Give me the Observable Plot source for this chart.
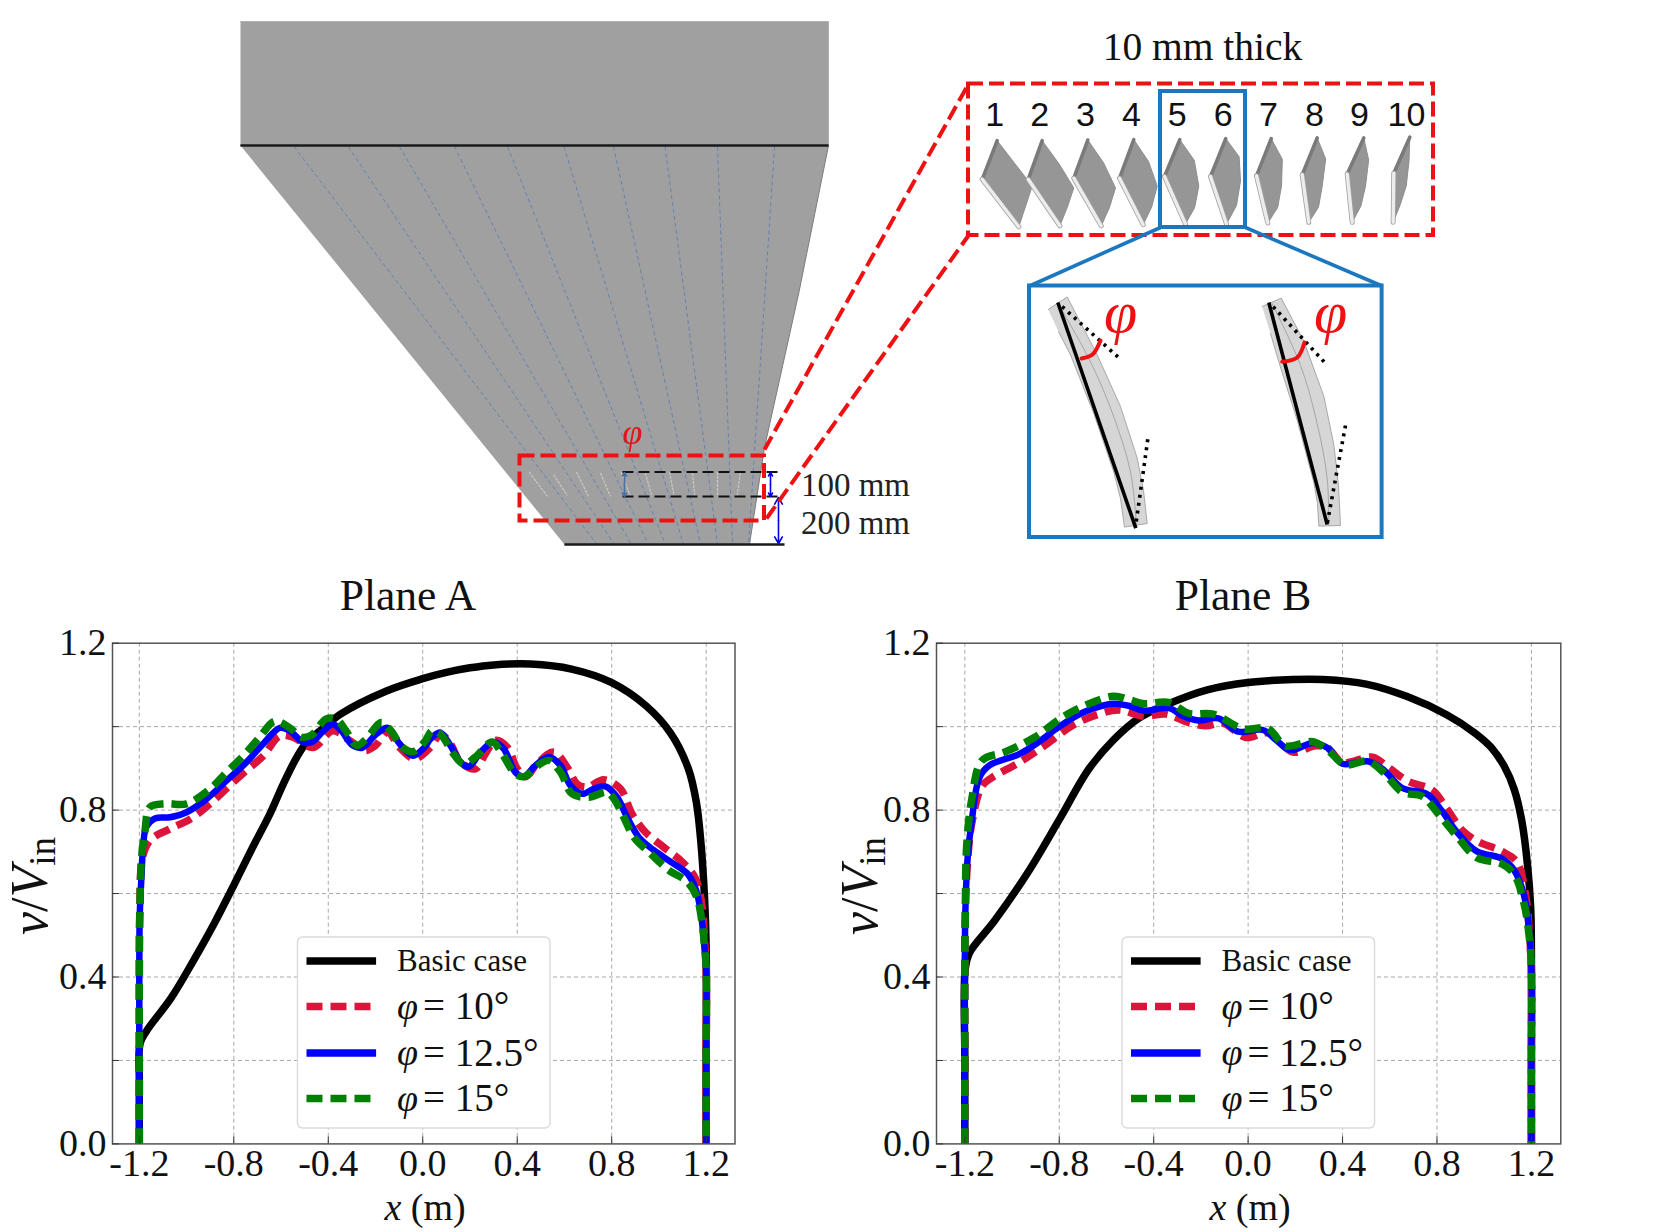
<!DOCTYPE html>
<html><head><meta charset="utf-8">
<script src="https://cdn.jsdelivr.net/npm/d3@7"></script>
<script src="https://cdn.jsdelivr.net/npm/@observablehq/plot@0.6"></script>
<style>
html,body{margin:0;padding:0;background:#fff}
#page{position:relative;width:1674px;height:1232px;overflow:hidden;background:#fff;font-family:"Liberation Serif",serif;color:#111}
#page svg{position:absolute;background:transparent}
.lab{position:absolute;white-space:nowrap;z-index:3;line-height:1}
.lab sub{font-size:37px;vertical-align:baseline;position:relative;top:8px}
</style></head><body><div id="page"></div>
<script>
// ---------- chart data (x in m, v/Vin) ----------
const wallL = [[-1.2,0],[-1.2,.2],[-1.2,.4],[-1.198,.55]];
const wallR = [[1.2,.42],[1.2,.2],[1.2,0]];

const planeA_basic = [[-1.2,0],[-1.2,.15],[-1.197,.24],[-1.17,.27],[-1.065,.35],[-.97,.44],[-.884,.527],[-.8,.62],[-.72,.711],[-.648,.79],[-.59,.863],[-.533,.927],[-.49,.963],[-.42,.997],[-.348,1.03],[-.156,1.085],[0,1.115],[.1,1.13],[.2,1.141],[.3,1.148],[.456,1.15],[.63,1.138],[.798,1.106],[.945,1.05],[1.05,.984],[1.124,.9],[1.158,.82],[1.178,.72],[1.193,.59],[1.2,.47],[1.2,.2],[1.2,0]];
const planeA_10 = [...wallL,[-1.185,.69],[-1.15,.73],[-1.07,.755],[-.98,.78],[-.9,.815],[-.825,.855],[-.755,.891],[-.675,.93],[-.605,.978],[-.55,.975],[-.465,.95],[-.38,.99],[-.31,.967],[-.245,.943],[-.2,.955],[-.15,.987],[-.098,.95],[-.035,.923],[.032,.95],[.075,.982],[.117,.959],[.16,.915],[.223,.899],[.265,.935],[.308,.967],[.357,.951],[.4,.899],[.435,.88],[.484,.911],[.555,.939],[.611,.903],[.653,.863],[.696,.855],[.766,.873],[.837,.851],[.886,.791],[.943,.747],[1.02,.711],[1.098,.676],[1.155,.636],[1.183,.568],[1.193,.488],...wallR];
const planeA_125 = [...wallL,[-1.19,.65],[-1.183,.72],[-1.17,.76],[-1.134,.78],[-1.07,.783],[-1,.795],[-.915,.827],[-.83,.871],[-.746,.915],[-.675,.959],[-.605,.997],[-.563,.99],[-.507,.963],[-.47,.963],[-.42,.99],[-.38,1.006],[-.345,.99],[-.296,.955],[-.254,.95],[-.197,.982],[-.148,.997],[-.098,.959],[-.042,.93],[.007,.95],[.032,.97],[.072,.986],[.117,.955],[.16,.915],[.195,.904],[.245,.939],[.3,.963],[.343,.947],[.392,.891],[.428,.88],[.477,.907],[.534,.927],[.583,.907],[.625,.859],[.675,.839],[.724,.851],[.773,.857],[.823,.831],[.865,.783],[.915,.735],[.978,.704],[1.05,.676],[1.12,.648],[1.155,.612],[1.176,.56],[1.19,.488],...wallR];
const planeA_15 = [...wallL,[-1.19,.69],[-1.176,.75],[-1.155,.807],[-1.085,.815],[-1,.815],[-.9,.851],[-.83,.891],[-.76,.93],[-.69,.975],[-.627,1.013],[-.563,.997],[-.515,.975],[-.47,.98],[-.41,1.018],[-.366,1.018],[-.325,.99],[-.28,.955],[-.24,.97],[-.175,1.01],[-.135,.99],[-.085,.95],[-.042,.94],[.007,.963],[.04,.99],[.075,.982],[.13,.935],[.174,.91],[.223,.927],[.294,.963],[.336,.935],[.392,.887],[.428,.88],[.498,.911],[.534,.919],[.583,.891],[.632,.839],[.703,.831],[.78,.843],[.809,.827],[.851,.783],[.894,.735],[.964,.696],[1.042,.656],[1.12,.628],[1.16,.592],[1.183,.528],[1.193,.472],...wallR];

const planeB_basic = [[-1.2,0],[-1.2,.2],[-1.198,.42],[-1.18,.458],[-1.075,.534],[-.927,.656],[-.8,.777],[-.674,.899],[-.569,.969],[-.464,1.02],[-.337,1.055],[-.169,1.089],[0,1.106],[.19,1.113],[.316,1.113],[.5,1.102],[.674,1.072],[.843,1.028],[.96,.985],[1.03,.95],[1.085,.905],[1.127,.85],[1.159,.775],[1.184,.666],[1.197,.565],[1.2,.463],[1.2,.2],[1.2,0]];
const planeB_10 = [...wallL,[-1.188,.68],[-1.17,.77],[-1.127,.858],[-1.085,.878],[-.97,.914],[-.864,.954],[-.737,1.005],[-.632,1.03],[-.548,1.04],[-.442,1.025],[-.348,1.03],[-.253,1.01],[-.179,1.002],[-.105,1.008],[-.01,.974],[.084,.985],[.19,.939],[.285,.954],[.337,.949],[.4,.914],[.527,.927],[.59,.904],[.674,.87],[.78,.848],[.843,.802],[.906,.752],[.969,.726],[1.075,.701],[1.138,.676],[1.176,.595],[1.192,.5],...wallR];
const planeB_125 = [...wallL,[-1.188,.686],[-1.17,.777],[-1.138,.878],[-1.096,.907],[-.97,.934],[-.885,.964],[-.8,1],[-.695,1.035],[-.569,1.055],[-.506,1.05],[-.442,1.038],[-.337,1.045],[-.274,1.025],[-.21,1.015],[-.126,1.02],[-.042,.988],[.063,.992],[.116,.969],[.179,.944],[.274,.961],[.337,.949],[.4,.911],[.506,.917],[.569,.899],[.653,.853],[.759,.838],[.822,.797],[.885,.747],[.969,.701],[1.075,.684],[1.127,.656],[1.169,.595],[1.19,.514],...wallR];
const planeB_15 = [...wallL,[-1.192,.716],[-1.17,.828],[-1.127,.919],[-1.032,.939],[-.906,.974],[-.78,1.025],[-.674,1.055],[-.569,1.073],[-.506,1.065],[-.442,1.055],[-.337,1.058],[-.253,1.032],[-.147,1.03],[-.021,.995],[.084,.995],[.158,.954],[.274,.964],[.337,.944],[.411,.909],[.506,.917],[.569,.893],[.653,.843],[.737,.833],[.811,.787],[.885,.737],[.969,.686],[1.075,.671],[1.127,.646],[1.169,.575],[1.19,.5],...wallR];

const xTicks = [-1.2,-.8,-.4,0,.4,.8,1.2];
const yTicks = [0,.4,.8,1.2];
const yGrid = [.2,.4,.6,.8,1];

// ---------- legend ----------
const legendLabels = ["Basic case","= 10°","= 12.5°","= 15°"];
const legendColors = ["#000000","#dc143c","#0000ff","#008000"];
const legendDash = ["none","16 8","none","16 8"];
const lineWidths = [7.5,7.5,6.5,7.5];

// ---------- schematic, in page units ----------
const ductTop = [[240,21],[828,21],[828,145],[240,145]];
const ductBody = [[240,145],[828,145],[798.6,291],[764,447],[749,544],[564,544]];
const flowTop = [293.5,347.7,399,454,507,563.5,613,664.5,717,774];
const flowBottom = [596.5,614,631,648,665,683,700,717,732,748];
const smallBlades = [[528.6,471.5,547,496],[553,474,566.7,495],[576,471.5,588,496],[600,472.5,610,496],[620.4,471.5,630,496],[644.8,472.5,651.6,496],[669,471.5,673.7,496],[692,472.5,694.4,496],[717,471.5,717,496],[739.8,472.5,736.6,496]];
const vaneCorners = [
 [[996.7,140.2],[1031.7,185.6],[1018.3,226.3],[981.7,178.8]],
 [[1041.7,140.2],[1073.3,187.4],[1059.3,225.3],[1027.7,178.8]],
 [[1087.3,139.5],[1115,187.4],[1100.7,225.3],[1073.3,177.7]],
 [[1133.3,139.2],[1156.7,185.6],[1142.7,224.2],[1119,177.7]],
 [[1179.3,139.2],[1198.3,185.6],[1185,223.5],[1164,176]],
 [[1225.3,138.1],[1240,180.5],[1226,223.5],[1210,176]],
 [[1270.7,138.1],[1281,185.6],[1267.3,222.5],[1256,175.3]],
 [[1316.7,137.4],[1321.7,185.6],[1308.3,221.8],[1301.7,174.3]],
 [[1363.3,137.4],[1365,185.6],[1351.7,221.8],[1346.7,173.6]],
 [[1409.3,136.7],[1405.7,185.6],[1392.7,221.8],[1393.3,172.6]]];
const vaneBulge = [0,1,2,3,5,6,6,6,4,1];
const vaneNames = ["1","2","3","4","5","6","7","8","9","10"];
const vaneNameX = [994.3,1039.3,1085,1131,1176.7,1222.7,1268,1314,1359,1406];
const bladeA = [[1047.7,309],[1066.7,296.5],[1081,324],[1096.7,354.4],[1120,406],[1136.7,457.7],[1143,490],[1146.7,523],[1124,526.6],[1120,498],[1113.3,471.5],[1093.3,413],[1070,354.4],[1058,331]];
const bladeB = [[1261.7,306],[1280.7,297.6],[1292,319],[1303.3,340.6],[1323.3,395.7],[1333.3,444],[1338,485],[1340,525],[1318.3,525.6],[1317,503],[1313.3,481.8],[1296.7,419.8],[1278.3,361.3],[1270,333]];
const camberA = [[1057.3,302.7],[1090,361.3],[1113.3,416.4],[1130,471.5],[1136,525]];
const camberB = [[1271,302],[1300,364.7],[1316.7,423.3],[1326.7,478.4],[1328.3,525]];
const chords = [[1057.3,302,1135.3,527.6],[1268.3,302,1326.7,524]];
const tangents = [[1061.7,306.2,1118.3,357.2],[1147.3,438.8,1135,526.6],[1272.7,306.2,1326.7,364.7],[1345,425,1326.7,523]];
const arcA = [[1081,358],[1092,354],[1100,340]];
const arcB = [[1281.7,361.3],[1296.7,357],[1304,342]];
const redBoxes = [[519.5,455.5,764,520.5],[968,83.5,1433,235]];
const redLeaders = [[764,449,968,83.5],[766,518,968,235]];
const blueBoxes = [[1160,91,1245,227],[1029,285.5,1381.6,537]];
const blueLeaders = [[1160,227,1029,285.5],[1245,227,1381.6,285.5]];
const blackDashes = [[622,471.5,780,471.5],[622,496,780,496]];
const dimArrows = [[770,484,770,472,"#0000e0"],[770,484,770,496,"#0000e0"],[778,520,778,497,"#0000e0"],[778,520,778,543,"#0000e0"],[624,484,624,472,"#4a6fa5"],[624,484,624,496,"#4a6fa5"]];
const blackLines = [[240,145,828,145],[564,544,784,544]];
const notes = [["100 mm",855,485],["200 mm",855,523]];

const serif = "Liberation Serif";

function chart(series, opts){
  const H = opts.frameH, W = opts.width - opts.left - opts.right;
  return Plot.plot({
    width: opts.width, height: opts.height,
    marginLeft: opts.left, marginRight: opts.right, marginTop: opts.top, marginBottom: opts.bottom,
    style: {background:"transparent"},
    x: {domain: opts.xDomain, axis:null},
    y: {domain: [0,1.2], axis:null},
    marks: [
      Plot.gridX(xTicks,{stroke:"#a8a8a8",strokeOpacity:1,strokeWidth:1,strokeDasharray:"4 3"}),
      Plot.gridY(yGrid,{stroke:"#a8a8a8",strokeOpacity:1,strokeWidth:1,strokeDasharray:"4 3"}),
      ...series.map((s,i)=>Plot.line(s,{x:d=>d[0],y:d=>d[1],stroke:legendColors[i],strokeWidth:lineWidths[i],strokeDasharray:legendDash[i]==="none"?null:legendDash[i],curve:"catmull-rom",strokeLinecap:"butt",strokeLinejoin:"round"})),
      Plot.frame({stroke:"#555",strokeWidth:1.5}),
      Plot.tickX(xTicks,{x:d=>d,insetTop:H-7,stroke:"#333",strokeWidth:1}),
      Plot.tickY(yGrid.concat([1.2,0]),{y:d=>d,insetRight:W-7,stroke:"#333",strokeWidth:1}),
      Plot.axisX(xTicks,{anchor:"bottom",tickSize:0,tickPadding:5,tickFormat:d=>d.toFixed(1),fontSize:38,fontFamily:serif,fill:"#111"}),
      Plot.axisY(yTicks,{anchor:"left",tickSize:0,tickPadding:6,tickFormat:d=>d.toFixed(1),fontSize:38,fontFamily:serif,fill:"#111"})
    ]
  });
}

const page = document.getElementById("page");
const place = (el,l,t,z)=>{el.style.left=l+"px";el.style.top=t+"px";el.style.zIndex=z;page.appendChild(el);};

place(chart([planeA_basic,planeA_10,planeA_125,planeA_15],{width:760,height:570,left:112,right:25.5,top:22.7,bottom:46.6,frameH:500.7,xDomain:[-1.3135,1.322]}),0,620,1);
place(chart([planeB_basic,planeB_10,planeB_125,planeB_15],{width:760,height:570,left:116,right:19.7,top:22.7,bottom:46.6,frameH:500.7,xDomain:[-1.32,1.3245]}),820,620,1);

// ---------- overlay: schematic and legends ----------
const poly = (pts,o)=>Plot.line(pts,{x:d=>d[0],y:d=>d[1],...o});
const seg = (rows,o)=>Plot.link(rows,{x1:d=>d[0],y1:d=>d[1],x2:d=>d[2],y2:d=>d[3],...o});
const box = (rows,o)=>Plot.rect(rows,{x1:d=>d[0],y1:d=>d[1],x2:d=>d[2],y2:d=>d[3],fill:"none",...o});
const flowLines = flowTop.map((t,i)=>[t,146,flowBottom[i],544]);
const legendOffsets = [0,824.5];
const legendRowY = [960.5,1006,1052.6,1098];
const legendBoxes = legendOffsets.map(o=>[297.5+o,937,550+o,1128]);
const legendLines = i=>legendOffsets.map(o=>[306+o,legendRowY[i],375.6+o,legendRowY[i]]);
const legendText = i=>legendOffsets.map(o=>({x:396.5+o,y:legendRowY[i],t:legendLabels[i]}));
// the vane's far edges bow outwards a little
const bowed = (c,b)=>[c[0],[(c[0][0]+c[1][0])/2+b,(c[0][1]+c[1][1])/2-b/2],c[1],[(c[1][0]+c[2][0])/2+b/2,(c[1][1]+c[2][1])/2+b/2],c[2],c[3]];

const overlay = Plot.plot({
  width:1674,height:1232,margin:0,
  style:{background:"transparent",pointerEvents:"none"},
  x:{domain:[0,1674],axis:null},
  y:{domain:[1232,0],axis:null},
  marks:[
    poly(ductTop,{fill:"#a0a0a0",stroke:"#b0b0b0",strokeWidth:1}),
    poly(ductBody,{fill:"#a0a0a0",stroke:"#7d7d7d",strokeWidth:1}),
    seg(flowLines,{stroke:"#5b7fb5",strokeWidth:.9,strokeDasharray:"4 3"}),
    seg(smallBlades,{stroke:"#c8c8c8",strokeWidth:1.2,strokeDasharray:"3 1"}),
    seg(blackDashes,{stroke:"#111",strokeWidth:2,strokeDasharray:"11 5"}),
    seg(blackLines,{stroke:"#1a1a1a",strokeWidth:2.4}),
    ...dimArrows.map(a=>Plot.arrow([a],{x1:d=>d[0],y1:d=>d[1],x2:d=>d[2],y2:d=>d[3],stroke:d=>d[4],strokeWidth:1.6,headLength:9,bend:false})),
    box(redBoxes,{stroke:"#ee1111",strokeWidth:4,strokeDasharray:"15 6"}),
    seg(redLeaders,{stroke:"#ee1111",strokeWidth:4,strokeDasharray:"15 6"}),
    Plot.text(["φ"],{x:()=>632,y:()=>432,fontFamily:serif,fontStyle:"italic",fontSize:36,fill:"#e01515"}),
    Plot.text(notes,{x:d=>d[1],y:d=>d[2],text:d=>d[0],fontFamily:serif,fontSize:33,fill:"#222"}),
    Plot.text(["10 mm thick"],{x:()=>1202,y:()=>47,fontFamily:serif,fontSize:39.5,fill:"#111"}),
    ...vaneCorners.flatMap((c,i)=>[
      poly(bowed(c,vaneBulge[i]),{fill:"#969696",stroke:"#8e8e8e",strokeWidth:1,curve:"linear"}),
      poly([c[3],c[0]],{stroke:"#7a7a7a",strokeWidth:3.6}),
      poly([c[3],c[2]],{stroke:"#a0a0a0",strokeWidth:5}),
      poly([c[3],c[2]],{stroke:"#ececec",strokeWidth:3.4})
    ]),
    Plot.text(vaneNames,{x:(d,i)=>vaneNameX[i],y:()=>114.5,fontFamily:"Liberation Sans",fontSize:34,fill:"#111"}),
    box(blueBoxes,{stroke:"#1b78c0",strokeWidth:4}),
    seg(blueLeaders,{stroke:"#1b78c0",strokeWidth:3.6}),
    poly(bladeA,{fill:"#d6d6d6",stroke:"#a8a8a8",strokeWidth:1}),
    poly(bladeB,{fill:"#d6d6d6",stroke:"#a8a8a8",strokeWidth:1}),
    poly(camberA,{stroke:"#a6a6a6",strokeWidth:1,curve:"catmull-rom"}),
    poly(camberB,{stroke:"#a6a6a6",strokeWidth:1,curve:"catmull-rom"}),
    seg(chords,{stroke:"#000",strokeWidth:3.6}),
    seg(tangents,{stroke:"#000",strokeWidth:3.6,strokeDasharray:"3 5"}),
    poly(arcA,{stroke:"#ee1111",strokeWidth:4,curve:"catmull-rom"}),
    poly(arcB,{stroke:"#ee1111",strokeWidth:4,curve:"catmull-rom"}),
    Plot.text(["φ","φ"],{x:(d,i)=>[1120,1330][i],y:()=>312,fontFamily:serif,fontStyle:"italic",fontSize:60,fill:"#ee1111"}),
    box(legendBoxes,{fill:"#fff",stroke:"#dadada",strokeWidth:1.4,rx:5}),
    ...legendLabels.flatMap((lab,i)=>[
      seg(legendLines(i),{stroke:legendColors[i],strokeWidth:7.5,strokeDasharray:legendDash[i]==="none"?null:legendDash[i]}),
      ...(i===0
        ? [Plot.text(legendText(i),{x:"x",y:"y",text:"t",textAnchor:"start",fontFamily:serif,fontSize:31,fill:"#111"})]
        : [Plot.text(legendText(i),{x:"x",y:"y",text:()=>"φ",textAnchor:"start",fontFamily:serif,fontStyle:"italic",fontSize:38,fill:"#111"}),
           Plot.text(legendText(i),{x:d=>d.x+26,y:"y",text:"t",textAnchor:"start",fontFamily:serif,fontSize:39,fill:"#111"})])
    ])
  ]
});
place(overlay,0,0,2);

// ---------- titles and axis labels ----------
function label(html,x,y,size,rot){
  const d=document.createElement("div");d.className="lab";d.innerHTML=html;
  d.style.left=x+"px";d.style.top=y+"px";d.style.fontSize=size+"px";
  d.style.transform="translate(-50%,-50%)"+(rot?" rotate(-90deg)":"");
  page.appendChild(d);
}
label("Plane A",408,596,43.5);
label("Plane B",1243,596,43.5);
label("<i>x</i> (m)",425,1207,38);
label("<i>x</i> (m)",1250,1207,38);
const yl='<i>v</i>/<i>V</i><sub>in</sub>';
label(yl,30,886,52,true);
label(yl,860,886,52,true);
</script></body></html>
